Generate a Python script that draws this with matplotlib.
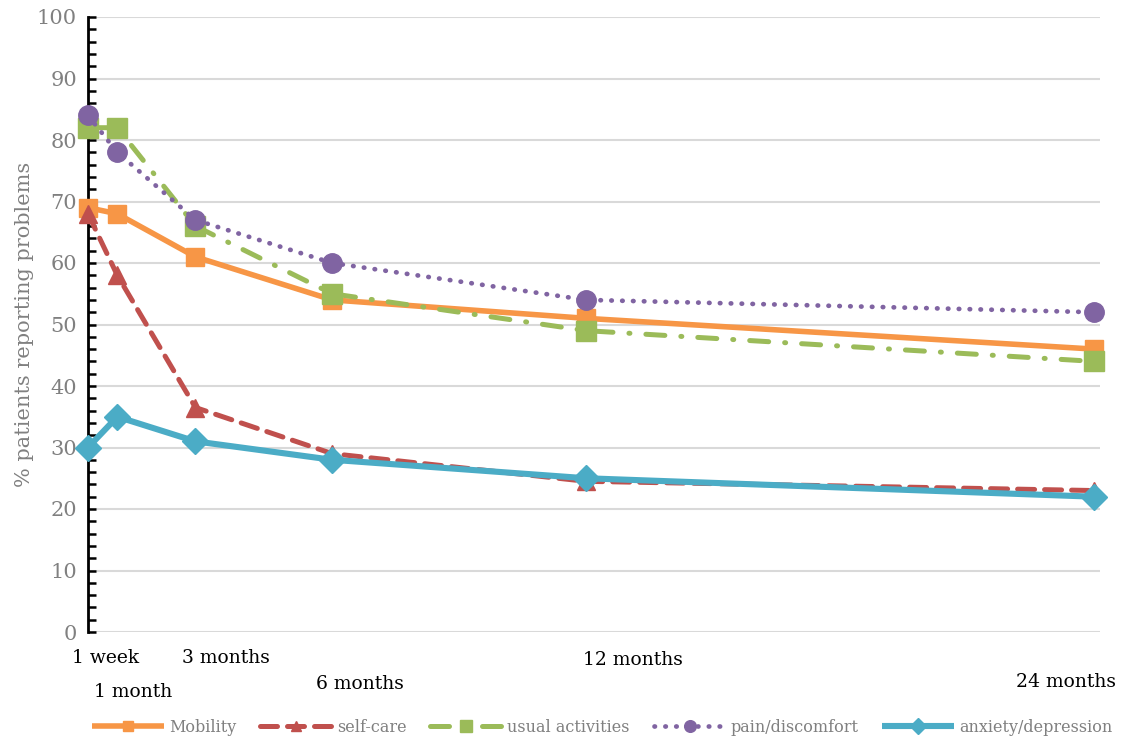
import matplotlib
matplotlib.use("Agg")
import matplotlib.pyplot as plt
from matplotlib.ticker import MultipleLocator

plt.rcParams['font.family'] = ['DejaVu Serif']

# follow-up time in weeks
weeks = [1, 4, 12, 26, 52, 104]
time_labels = ["1 week", "1 month", "3 months", "6 months", "12 months", "24 months"]

mobility = [69, 68, 61, 54, 51, 46]
self_care = [68, 58, 36.5, 29, 24.5, 23]
usual_activities = [82, 82, 66, 55, 49, 44]
pain_discomfort = [84, 78, 67, 60, 54, 52]
anxiety_depression = [30, 35, 31, 28, 25, 22]

series = [
    ("Mobility", mobility, "#F79646", "-", "s", 4.0, 13),
    ("self-care", self_care, "#C0504D", (0, (3.4, 2.0)), "^", 3.6, 13),
    ("usual activities", usual_activities, "#9BBB59", (0, (3.8, 3.2, 0.2, 3.2)), "s", 3.6, 14),
    ("pain/discomfort", pain_discomfort, "#8064A2", (0, (0.1, 2.2)), "o", 3.4, 14),
    ("anxiety/depression", anxiety_depression, "#4BACC6", "-", "D", 4.4, 13),
]

fig = plt.figure(figsize=(11.32, 7.38), dpi=100)
ax = fig.add_axes([88 / 1132, 1 - 632 / 738, (1100 - 88) / 1132, (632 - 17) / 738])

handles = []
for name, vals, color, ls, mk, lw, ms in series:
    h, = ax.plot(weeks, vals, color=color, linestyle=ls, linewidth=lw,
                 marker=mk, markersize=ms, markeredgecolor=color,
                 dash_capstyle='round', solid_capstyle='butt', label=name,
                 zorder=3, clip_on=False)
    handles.append(h)

ax.set_xlim(1, 104.6)
ax.set_ylim(0, 100)
ax.yaxis.set_major_locator(MultipleLocator(10))
ax.yaxis.set_minor_locator(MultipleLocator(2))
ax.set_xticks([])
ax.grid(axis='y', color='#d9d9d9', linewidth=1.5, zorder=0)
ax.set_axisbelow(True)
for side in ['top', 'right', 'bottom']:
    ax.spines[side].set_visible(False)
ax.spines['left'].set_linewidth(2)
ax.spines['left'].set_zorder(2)
ax.tick_params(axis='y', which='both', direction='in', length=6, width=1.8,
               labelsize=15, labelcolor='#808080', pad=8)
ax.set_ylabel("% patients reporting problems", fontsize=15, color='#808080', labelpad=2)

# staggered time labels under the plot
label_pos = [(106, 658), (133, 692), (226, 658), (360, 684), (633, 660), (1066, 682)]
for text, (px, py) in zip(time_labels, label_pos):
    fig.text(px / 1132, 1 - py / 738, text, ha='center', va='center',
             fontsize=13.5, color='black')

leg = fig.legend(handles=handles, loc='center', bbox_to_anchor=(0.532, 1 - 727 / 738),
                 ncol=5, frameon=False, fontsize=11.5, handlelength=4.5,
                 columnspacing=1.5, handletextpad=0.3, markerscale=0.6)
for t in leg.get_texts():
    t.set_color('#808080')

plt.savefig("out.png", dpi=100)
